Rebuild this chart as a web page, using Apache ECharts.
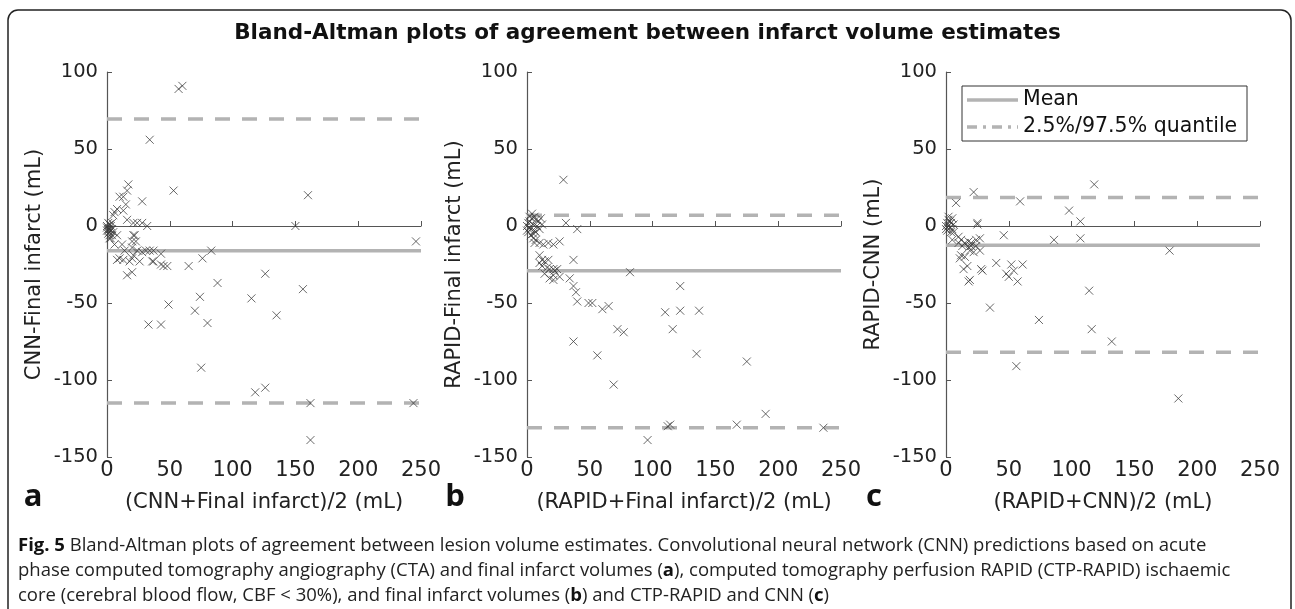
<!DOCTYPE html>
<html>
<head>
<meta charset="utf-8">
<script src="https://cdn.jsdelivr.net/npm/echarts@6/dist/echarts.min.js"></script>
<style>
  html, body { margin: 0; padding: 0; background: #fff; }
  #chart { width: 1295px; height: 609px; }
</style>
</head>
<body>
<div id="chart"></div>
<script>
// Panel a: CNN vs final infarct  [mean, difference]
const pointsA = [
  [57, 89], [60, 91], [34, 56], [53, 23], [160, 20], [150, 0], [246, -10], [83, -16], [76, -21],
  [65, -26], [88, -37], [126, -31], [115, -47], [156, -41], [49, -51], [74, -46], [70, -55],
  [135, -58], [33, -64], [43, -64], [80, -63], [75, -92], [118, -108], [126, -105], [162, -115],
  [244, -115], [162, -139],
  [43, -18], [45, -26], [48, -26], [36, -23], [34, -16], [31, -16], [32, 0], [28, 2], [28, 16],
  [26, -23], [24, 2], [22, -6], [21, 2], [17, 27], [16, 23], [13, 19], [10, 19], [15, 14], [8, 11],
  [6, 9], [13, 10], [5, 7], [16, 4], [4, 2], [8, -6], [21, -6], [20, -10], [23, -10], [2, -8],
  [6, -12], [12, -12], [20, -14], [24, -16], [28, -17], [37, -16], [14, -16], [10, -21], [13, -22],
  [8, -22], [20, -21], [21, -19], [18, -23], [37, -23], [43, -25], [20, -30], [16, -32],
  [0, 0], [1, -2], [2, -4], [1, -5], [3, -3], [2, 1], [0, -3], [4, -6], [3, 0], [1, 2], [2, -6],
  [4, -2], [5, -4], [0, -1], [3, -8], [1, -3], [2, -2]
];

// Panel b: RAPID vs final infarct
const pointsB = [
  [29, 30], [31, 2], [40, -2], [26, -10], [37, -22], [82, -30], [122, -39], [34, -34], [37, -39],
  [39, -43], [40, -49], [49, -50], [52, -50], [60, -54], [65, -52], [110, -56], [122, -55],
  [137, -55], [72, -67], [77, -69], [116, -67], [37, -75], [56, -84], [69, -103], [135, -83],
  [175, -88], [190, -122], [167, -129], [112, -130], [114, -129], [96, -139], [236, -131],
  [0, 0], [2, 3], [3, -2], [1, -4], [4, 5], [5, 1], [6, -3], [2, 6], [7, 4], [8, 0], [3, -6],
  [1, 2], [5, -5], [9, 3], [10, -2], [4, 8], [6, 6], [2, -1], [0, -3], [12, 1], [7, -4], [11, 5],
  [6, -11], [10, -11], [13, -12], [17, -11], [21, -12], [5, -8], [7, -9], [10, -19], [12, -22],
  [14, -23], [17, -22], [10, -24], [12, -26], [16, -27], [18, -28], [21, -28], [24, -28],
  [14, -31], [21, -32], [18, -34], [26, -33], [22, -29], [21, -35]
];

// Panel c: RAPID vs CNN
const pointsC = [
  [118, 27], [22, 22], [8, 15], [59, 16], [98, 10], [107, 3], [25, 1], [25, 2], [46, -6], [86, -9],
  [107, -8], [178, -16], [40, -24], [52, -25], [61, -25], [48, -31], [50, -33], [54, -29],
  [57, -36], [29, -29], [18, -36], [14, -28], [17, -26], [35, -53], [74, -61], [114, -42],
  [116, -67], [132, -75], [56, -91], [185, -112],
  [0, 0], [1, 2], [2, 4], [3, -1], [1, -3], [4, 2], [2, 6], [5, 5], [3, 3], [0, -2], [6, 1],
  [4, -4], [2, 0], [5, -2],
  [6, -4], [10, -7], [12, -9], [15, -11], [18, -10], [20, -11], [24, -9], [27, -8], [5, -9],
  [10, -11], [13, -13], [18, -14], [20, -13], [24, -13], [27, -16], [22, -17], [19, -16],
  [12, -19], [11, -21], [15, -20], [28, -28], [19, -35]
];

const meanDiff = [-16, -29, -12.5];
const upperQuantile = [69.5, 7, 18.5];
const lowerQuantile = [-115, -131, -82];
const xSpan = [0, 250];

const yNames = ['CNN-Final infarct (mL)', 'RAPID-Final infarct (mL)', 'RAPID-CNN (mL)'];
const xNames = ['(CNN+Final infarct)/2 (mL)', '(RAPID+Final infarct)/2 (mL)', '(RAPID+CNN)/2 (mL)'];
const panelLetters = ['a', 'b', 'c'];
const legendNames = ['Mean', '2.5%/97.5% quantile'];

const titleText = 'Bland-Altman plots of agreement between infarct volume estimates';
const captionLines = [
  '{b|Fig. 5} Bland-Altman plots of agreement between lesion volume estimates. Convolutional neural network (CNN) predictions based on acute',
  'phase computed tomography angiography (CTA) and final infarct volumes ({b|a}), computed tomography perfusion RAPID (CTP-RAPID) ischaemic',
  'core (cerebral blood flow, CBF < 30%), and final infarct volumes ({b|b}) and CTP-RAPID and CNN ({b|c})'
];

const allPoints = [pointsA, pointsB, pointsC];
const gridLefts = [107, 527, 946];
const letterX = [33, 455, 874];

const axisFont = 'DejaVu Sans';
const refColor = '#b3b3b3';
const crossSymbol = 'path://M0 0L10 10M10 0L0 10';

const chart = echarts.init(document.getElementById('chart'), null, { renderer: 'canvas' });

const grids = gridLefts.map(l => ({ left: l, top: 72, width: 314, height: 385 }));

const xAxes = xNames.map((n, i) => ({
  gridIndex: i, type: 'value', min: 0, max: 250, interval: 50,
  name: n, nameLocation: 'middle', nameGap: 35,
  nameTextStyle: { fontFamily: axisFont, fontSize: 21, color: '#222' },
  axisLine: { lineStyle: { color: '#555', width: 1.2 } },
  axisTick: { inside: true, length: 5, lineStyle: { color: '#555' } },
  axisLabel: { fontFamily: axisFont, fontSize: 21, color: '#222', margin: 3 },
  splitLine: { show: false }
}));

const yAxes = yNames.map((n, i) => ({
  gridIndex: i, type: 'value', min: -150, max: 100, interval: 50,
  name: n, nameLocation: 'middle', nameGap: 62,
  nameTextStyle: { fontFamily: axisFont, fontSize: 21, color: '#222' },
  axisLine: { show: true, lineStyle: { color: '#555', width: 1.2 } },
  axisTick: { show: true, inside: true, length: 5, lineStyle: { color: '#555' } },
  axisLabel: { fontFamily: axisFont, fontSize: 19.5, color: '#222', margin: 9 },
  splitLine: { show: false }
}));

const series = [];
allPoints.forEach((pts, i) => {
  const refLine = (y, dashed) => ({
    type: 'line', xAxisIndex: i, yAxisIndex: i, silent: true, symbol: 'none', z: 1,
    data: xSpan.map(x => [x, y]),
    lineStyle: { color: refColor, width: 3.5, type: dashed ? [15, 12] : 'solid' }
  });
  series.push(refLine(meanDiff[i], false));
  series.push(refLine(upperQuantile[i], true));
  series.push(refLine(lowerQuantile[i], true));
  series.push({
    type: 'scatter', xAxisIndex: i, yAxisIndex: i, z: 3,
    data: pts, symbol: crossSymbol, symbolSize: 8,
    itemStyle: { color: 'none', borderColor: '#3a3a3a', borderWidth: 0.9, opacity: 0.85 }
  });
});

const graphic = [
  {
    type: 'rect', z: 0, silent: true,
    shape: { x: 8, y: 10, width: 1283, height: 640, r: 10 },
    style: { fill: 'none', stroke: '#222', lineWidth: 1.5 }
  },
  {
    type: 'text', left: 'center', top: 22,
    style: { text: titleText, font: 'bold 21.5px "DejaVu Sans"', fill: '#111' }
  },
  ...panelLetters.map((t, i) => ({
    type: 'text', x: letterX[i], y: 497,
    style: { text: t, font: 'bold 31px "Open Sans"', fill: '#111', align: 'center', verticalAlign: 'middle' }
  })),
  // legend box in panel c
  {
    type: 'rect', z: 5,
    shape: { x: 962, y: 86, width: 285, height: 55 },
    style: { fill: '#fff', stroke: '#333', lineWidth: 1 }
  },
  {
    type: 'line', z: 6,
    shape: { x1: 967, y1: 100, x2: 1018, y2: 100 },
    style: { stroke: refColor, lineWidth: 3.5 }
  },
  {
    type: 'line', z: 6,
    shape: { x1: 967, y1: 127, x2: 1018, y2: 127 },
    style: { stroke: refColor, lineWidth: 3.5, lineDash: [10, 6, 3, 6] }
  },
  ...legendNames.map((t, i) => ({
    type: 'text', z: 6, x: 1023, y: i === 0 ? 100 : 127,
    style: { text: t, font: '20.5px "DejaVu Sans"', fill: '#111', verticalAlign: 'middle' }
  })),
  ...captionLines.map((t, i) => ({
    type: 'text', x: 18, y: 546 + i * 25,
    style: {
      text: t, font: '18.5px "Open Sans"', fill: '#222', verticalAlign: 'middle',
      rich: { b: { fontWeight: 'bold', fontFamily: 'Open Sans', fontSize: 18.5, fill: '#111' } }
    }
  }))
];

chart.setOption({
  backgroundColor: '#fff',
  animation: false,
  grid: grids,
  xAxis: xAxes,
  yAxis: yAxes,
  series: series,
  graphic: graphic
});
</script>
</body>
</html>
